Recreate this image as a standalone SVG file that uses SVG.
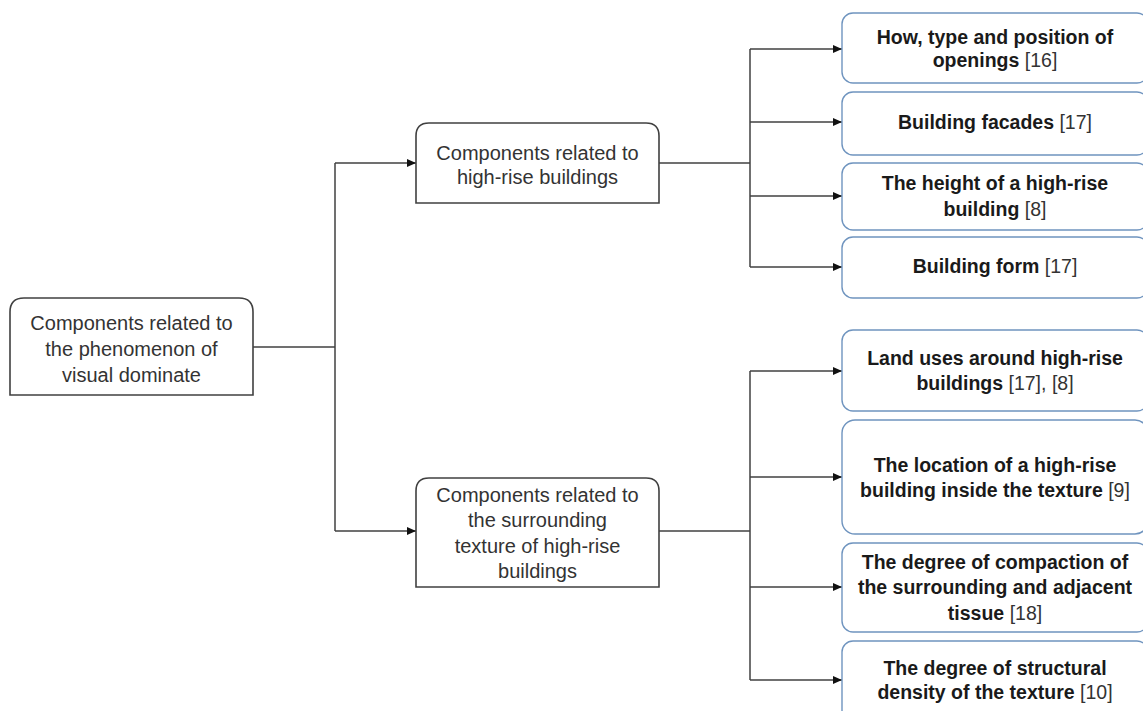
<svg xmlns="http://www.w3.org/2000/svg" width="1143" height="711" viewBox="0 0 1143 711">
<style>
.bg{fill:#ffffff}
.gnode{fill:#ffffff;stroke:#404040;stroke-width:1.6}
.bnode{fill:#ffffff;stroke:#6f94bf;stroke-width:1.4}
.t{font-family:"Liberation Sans",Arial,sans-serif;font-size:20px;fill:#333333;text-anchor:middle}
.b{font-family:"Liberation Sans",Arial,sans-serif;font-size:19.5px;fill:#1a1a1a;text-anchor:middle;font-weight:bold}
.r{font-weight:normal;fill:#333333}
.c{fill:none;stroke:#404040;stroke-width:1.5}
.a{fill:none;stroke:#404040;stroke-width:1.5;marker-end:url(#ah)}
</style>
<defs>
<marker id="ah" markerWidth="9" markerHeight="8" refX="9" refY="4" orient="auto" markerUnits="userSpaceOnUse">
<path d="M0,0 L9,4 L0,8 Z" fill="#111111"/>
</marker>
</defs>
<rect class="bg" x="0" y="0" width="1143" height="711"/>
<g id="connectors">
<path class="c" d="M253,347 H335"/>
<path class="c" d="M335,163 V531"/>
<path class="a" d="M335,163 H416"/>
<path class="a" d="M335,531 H416"/>
<path class="c" d="M659,163 H750"/>
<path class="c" d="M750,49 V267"/>
<path class="a" d="M750,49 H842"/>
<path class="a" d="M750,122 H842"/>
<path class="a" d="M750,196 H842"/>
<path class="a" d="M750,267 H842"/>
<path class="c" d="M659,531 H750"/>
<path class="c" d="M750,371 V680"/>
<path class="a" d="M750,371 H842"/>
<path class="a" d="M750,477 H842"/>
<path class="a" d="M750,587 H842"/>
<path class="a" d="M750,680 H842"/>
</g>
<g id="root">
<path class="gnode" d="M10,395 V312 Q10,298 24,298 H239 Q253,298 253,312 V395 Z"/>
<text class="t" x="131.5" y="330">Components related to</text>
<text class="t" x="131.5" y="356">the phenomenon of</text>
<text class="t" x="131.5" y="382">visual dominate</text>
</g>
<g id="mid1">
<path class="gnode" d="M416,203 V136 Q416,123 429,123 H646 Q659,123 659,136 V203 Z"/>
<text class="t" x="537.5" y="160">Components related to</text>
<text class="t" x="537.5" y="184">high-rise buildings</text>
</g>
<g id="mid2">
<path class="gnode" d="M416,587 V491 Q416,478 429,478 H646 Q659,478 659,491 V587 Z"/>
<text class="t" x="537.5" y="502">Components related to</text>
<text class="t" x="537.5" y="527">the surrounding</text>
<text class="t" x="537.5" y="553">texture of high-rise</text>
<text class="t" x="537.5" y="578">buildings</text>
</g>
<g id="r1">
<rect class="bnode" x="842" y="13" width="306" height="70" rx="11"/>
<text class="b" x="995" y="44">How, type and position of</text>
<text class="b" x="995" y="67">openings <tspan class="r">[16]</tspan></text>
</g>
<g id="r2">
<rect class="bnode" x="842" y="92" width="306" height="63" rx="11"/>
<text class="b" x="995" y="129">Building facades <tspan class="r">[17]</tspan></text>
</g>
<g id="r3">
<rect class="bnode" x="842" y="163" width="306" height="67" rx="11"/>
<text class="b" x="995" y="190">The height of a high-rise</text>
<text class="b" x="995" y="216">building <tspan class="r">[8]</tspan></text>
</g>
<g id="r4">
<rect class="bnode" x="842" y="237" width="306" height="61" rx="11"/>
<text class="b" x="995" y="273">Building form <tspan class="r">[17]</tspan></text>
</g>
<g id="r5">
<rect class="bnode" x="842" y="330" width="306" height="81" rx="11"/>
<text class="b" x="995" y="365">Land uses around high-rise</text>
<text class="b" x="995" y="390">buildings <tspan class="r">[17], [8]</tspan></text>
</g>
<g id="r6">
<rect class="bnode" x="842" y="420" width="306" height="114" rx="13"/>
<text class="b" x="995" y="472">The location of a high-rise</text>
<text class="b" x="995" y="497">building inside the texture <tspan class="r">[9]</tspan></text>
</g>
<g id="r7">
<rect class="bnode" x="842" y="543" width="306" height="89" rx="11"/>
<text class="b" x="995" y="569">The degree of compaction of</text>
<text class="b" x="995" y="594">the surrounding and adjacent</text>
<text class="b" x="995" y="620">tissue <tspan class="r">[18]</tspan></text>
</g>
<g id="r8">
<rect class="bnode" x="842" y="641" width="306" height="80" rx="11"/>
<text class="b" x="995" y="675">The degree of structural</text>
<text class="b" x="995" y="699">density of the texture <tspan class="r">[10]</tspan></text>
</g>
</svg>
